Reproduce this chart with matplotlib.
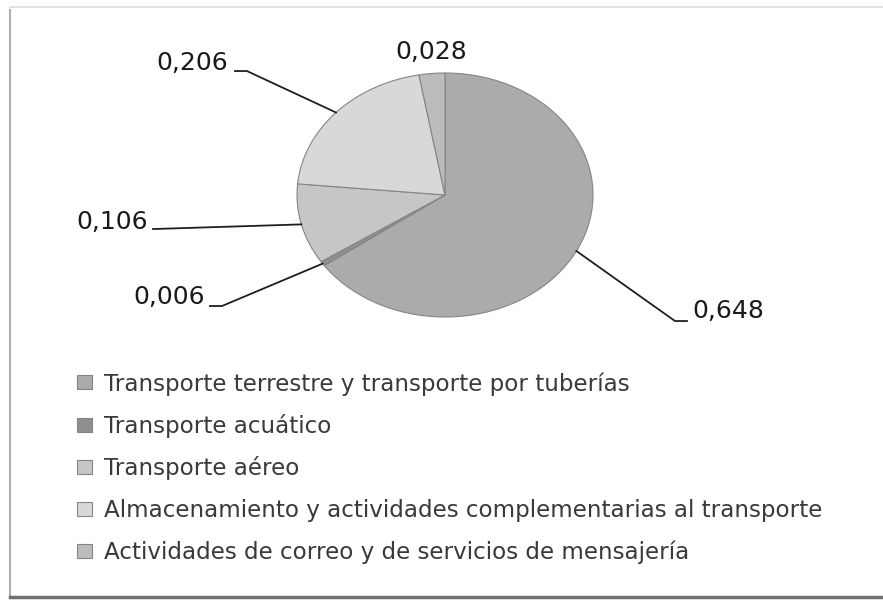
import matplotlib.pyplot as plt
import numpy as np
from matplotlib.lines import Line2D

# data
categories = [
    'Transporte terrestre y transporte por tuberías',
    'Transporte acuático',
    'Transporte aéreo',
    'Almacenamiento y actividades complementarias al transporte',
    'Actividades de correo y de servicios de mensajería',
]
shares = [0.648, 0.006, 0.106, 0.206, 0.028]
value_labels = ['0,648', '0,006', '0,106', '0,206', '0,028']
colors = ['#ababab', '#8f8f8f', '#c6c6c6', '#d8d8d8', '#bcbcbc']

W, H = 883, 603
fig = plt.figure(figsize=(W / 100, H / 100), dpi=100)
fig.patch.set_facecolor('white')


def px_box(x0, y0, x1, y1):
    return [x0 / W, 1 - y1 / H, (x1 - x0) / W, (y1 - y0) / H]


# pie occupies an elliptical box (scanned chart is slightly squashed)
ax = fig.add_axes(px_box(297, 73, 593, 317))
wedges, _ = ax.pie(shares, colors=colors, startangle=90, counterclock=False,
                   wedgeprops=dict(edgecolor='#858585', linewidth=0.8))
ax.set_xlim(-1, 1)
ax.set_ylim(-1, 1)
ax.set_aspect('auto')

# label layout: (elbow point, line end, text pos, ha) in axes data units
layout = [
    ((1.554, -1.033), (1.635, -1.033), (1.672, -0.951), 'left'),
    ((-1.507, -0.910), (-1.588, -0.910), (-1.622, -0.836), 'right'),
    (None, (-1.973, -0.279), (-2.005, -0.221), 'right'),
    ((-1.338, 1.016), (-1.419, 1.016), (-1.462, 1.082), 'right'),
    (None, None, (-0.095, 1.172), 'center'),
]

for w, lab, (elbow, end, tpos, ha) in zip(wedges, value_labels, layout):
    mid = np.deg2rad((w.theta1 + w.theta2) / 2)
    edge = (np.cos(mid), np.sin(mid))
    if end is not None:
        pts = [edge] + ([elbow] if elbow else []) + [end]
        xs, ys = zip(*pts)
        ax.add_line(Line2D(xs, ys, color='#1e1e1e', lw=1.3, clip_on=False))
    ax.text(tpos[0], tpos[1], lab, ha=ha, va='center', fontsize=18,
            color='#1a1a1a', clip_on=False)

fig.legend(wedges, categories, loc='upper left',
           bbox_to_anchor=(77 / W, 1 - 372 / H), borderaxespad=0,
           borderpad=0, frameon=False, fontsize=16.6,
           handlelength=0.65, handleheight=0.55, handletextpad=0.5,
           labelspacing=0.8, labelcolor='#3a3a3a')

# scanned frame
fig.add_artist(Line2D([10 / W, 10 / W], [1 - 10 / H, 1 - 597 / H],
                      color='#b0b0b0', lw=1.5, transform=fig.transFigure))
fig.add_artist(Line2D([10 / W, 1], [1 - 7 / H, 1 - 7 / H],
                      color='#dddddd', lw=1.2, transform=fig.transFigure))
fig.add_artist(Line2D([10 / W, 1], [1 - 597 / H, 1 - 597 / H],
                      color='#707070', lw=2.5, transform=fig.transFigure))

fig.savefig('out.png', dpi=100)
